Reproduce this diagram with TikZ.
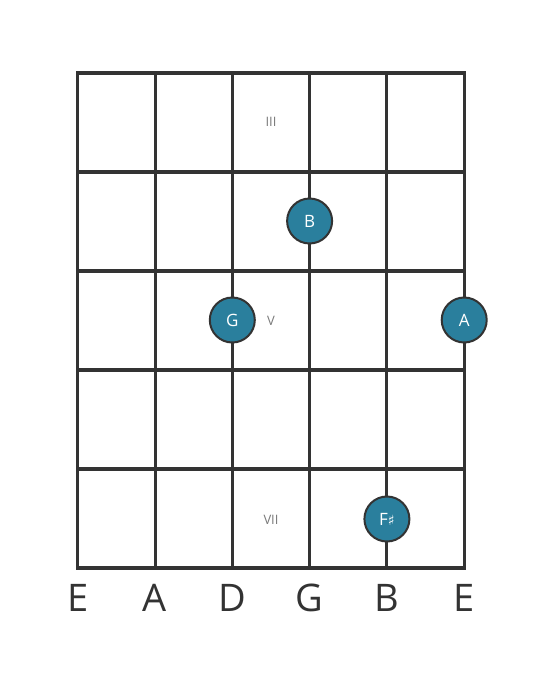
\documentclass[tikz,border=0pt]{standalone}
\usepackage{fontspec}
\setmainfont{Open Sans}
\newfontfamily\symfont{DejaVu Sans}
\definecolor{linegray}{HTML}{333333}
\definecolor{notefill}{HTML}{2A7F9D}
\definecolor{markgray}{HTML}{7A7A7A}
\begin{document}
\begin{tikzpicture}[x=1pt,y=-1pt,
  string line/.style={line width=3pt,draw=linegray},
  fret line/.style={line width=4.6pt,draw=linegray},
  note/.style={circle,draw=linegray,line width=2pt,fill=notefill,text=white,
    minimum size=45pt,inner sep=0pt,font=\fontsize{17}{17}\selectfont},
  fret mark/.style={text=markgray,font=\fontsize{13}{13}\selectfont},
  string name/.style={text=linegray,font=\fontsize{38}{38}\selectfont}]
  \useasboundingbox[fill=white] (0,0) rectangle (559,682);
  % strings
  \foreach \s/\x/\n in {1/77.7/E,2/155.0/A,3/232.3/D,4/309.6/G,5/386.9/B,6/464.2/E}{
    \coordinate (top\s) at (\x,73);
    \coordinate (bot\s) at (\x,568);
    \draw[string line] (top\s) -- (bot\s);
    \node[string name] (name\s) at (\x,598) {\n};
  }
  % frets
  \foreach \f/\y in {0/73,1/172,2/271,3/370,4/469,5/568}{
    \draw[fret line] (76.2,\y) -- (465.7,\y);
  }
  \node[fret mark] (mark3) at (271,122) {III};
  \node[fret mark] (mark5) at (271,321) {V};
  \node[fret mark] (mark7) at (271,520) {VII};
  % notes
  \node[note] (noteB) at (309.6,221) {B};
  \node[note] (noteG) at (232.3,320) {G};
  \node[note] (noteA) at (464.2,320) {A};
  \node[note] (noteFs) at (386.9,519) {F{\symfont\fontsize{14}{14}\selectfont ♯}};
\end{tikzpicture}
\end{document}
